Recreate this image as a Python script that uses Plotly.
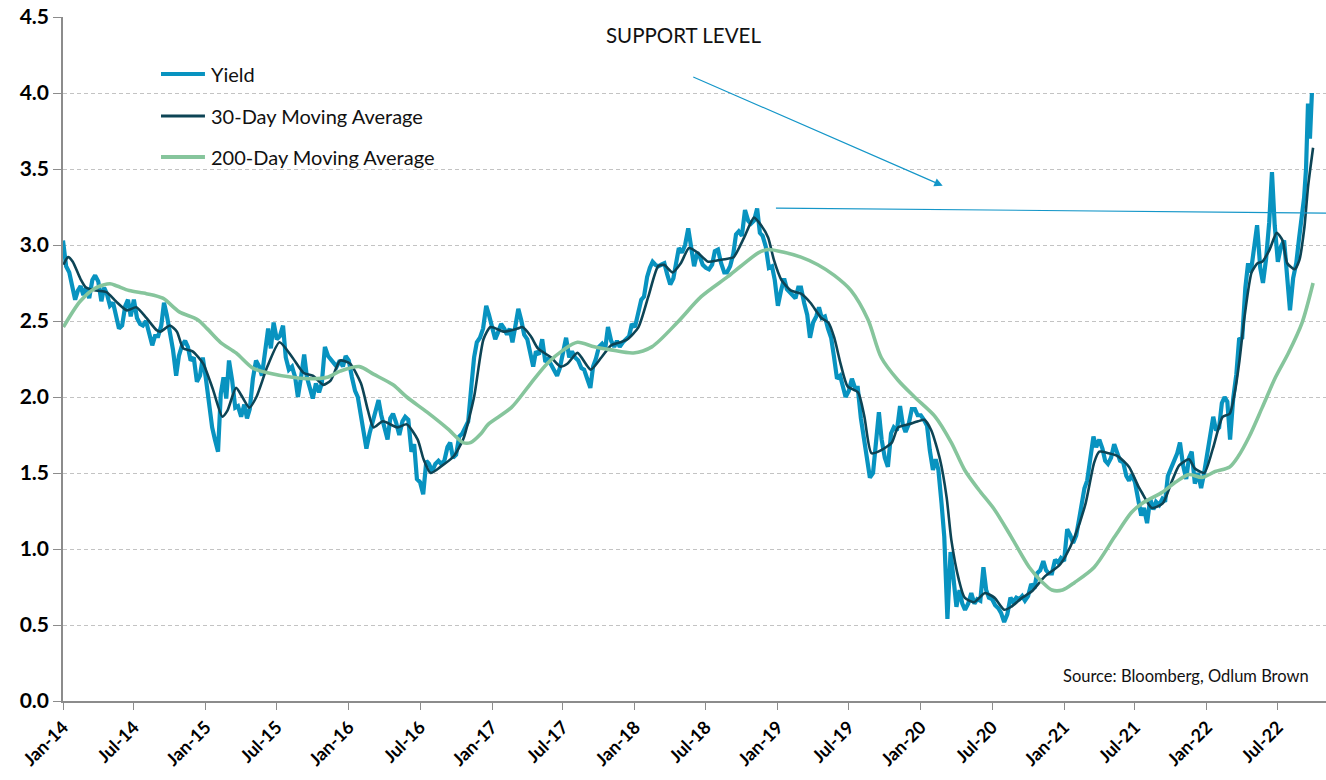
import calendar
import plotly.graph_objects as go

# ---------------- data ----------------
# Yield: 4 readings per month (Sep-2022 has 6), by year
YIELD_2014 = [3.03, 2.86, 2.82, 2.72, 2.64, 2.70, 2.73, 2.67, 2.72, 2.65, 2.77, 2.80,
              2.76, 2.63, 2.72, 2.68, 2.60, 2.62, 2.52, 2.45, 2.47, 2.60, 2.64, 2.53,
              2.64, 2.52, 2.48, 2.47, 2.50, 2.42, 2.34, 2.40, 2.40, 2.47, 2.62, 2.54,
              2.44, 2.31, 2.14, 2.27, 2.34, 2.37, 2.33, 2.24, 2.26, 2.10, 2.14, 2.26]
YIELD_2015 = [2.12, 1.95, 1.80, 1.72, 1.64, 2.02, 2.13, 1.99, 2.24, 2.11, 1.93, 1.94,
              1.87, 1.95, 1.86, 1.92, 2.12, 2.24, 2.20, 2.14, 2.31, 2.45, 2.32, 2.49,
              2.38, 2.40, 2.47, 2.26, 2.18, 2.20, 2.13, 2.00, 2.13, 2.28, 2.13, 2.05,
              1.99, 2.09, 2.03, 2.09, 2.33, 2.27, 2.25, 2.22, 2.20, 2.24, 2.20, 2.27]
YIELD_2016 = [2.24, 2.13, 2.04, 2.00, 1.86, 1.74, 1.66, 1.76, 1.83, 1.90, 1.98, 1.88,
              1.79, 1.72, 1.86, 1.89, 1.83, 1.75, 1.84, 1.87, 1.85, 1.64, 1.69, 1.46,
              1.44, 1.36, 1.58, 1.56, 1.51, 1.56, 1.58, 1.56, 1.58, 1.67, 1.70, 1.60,
              1.62, 1.74, 1.76, 1.80, 1.84, 2.07, 2.26, 2.36, 2.39, 2.45, 2.60, 2.54]
YIELD_2017 = [2.45, 2.38, 2.43, 2.48, 2.45, 2.41, 2.45, 2.36, 2.46, 2.58, 2.50, 2.41,
              2.38, 2.27, 2.20, 2.30, 2.28, 2.38, 2.23, 2.25, 2.21, 2.18, 2.14, 2.19,
              2.30, 2.39, 2.26, 2.30, 2.26, 2.24, 2.19, 2.18, 2.12, 2.06, 2.20, 2.25,
              2.33, 2.35, 2.32, 2.46, 2.37, 2.33, 2.37, 2.33, 2.36, 2.38, 2.40, 2.48]
YIELD_2018 = [2.46, 2.55, 2.64, 2.66, 2.79, 2.85, 2.89, 2.87, 2.86, 2.87, 2.88, 2.81,
              2.74, 2.78, 2.88, 2.98, 2.95, 3.00, 3.11, 2.98, 2.86, 2.95, 2.92, 2.87,
              2.85, 2.84, 2.87, 2.96, 2.97, 2.88, 2.82, 2.82, 2.86, 2.94, 3.07, 3.09,
              3.06, 3.23, 3.16, 3.14, 3.16, 3.24, 3.08, 3.06, 2.99, 2.85, 2.86, 2.77]
YIELD_2019 = [2.60, 2.70, 2.78, 2.71, 2.69, 2.67, 2.65, 2.72, 2.72, 2.62, 2.54, 2.39,
              2.49, 2.53, 2.59, 2.52, 2.53, 2.45, 2.39, 2.27, 2.12, 2.14, 2.06, 2.00,
              2.04, 2.12, 2.06, 2.06, 1.86, 1.72, 1.60, 1.47, 1.50, 1.73, 1.90, 1.72,
              1.60, 1.54, 1.76, 1.80, 1.78, 1.94, 1.82, 1.77, 1.82, 1.92, 1.92, 1.88]
YIELD_2020 = [1.88, 1.85, 1.81, 1.65, 1.52, 1.59, 1.52, 1.30, 1.08, 0.54, 0.98, 0.82,
              0.62, 0.73, 0.64, 0.60, 0.64, 0.71, 0.64, 0.67, 0.66, 0.88, 0.73, 0.68,
              0.67, 0.63, 0.61, 0.58, 0.52, 0.57, 0.68, 0.65, 0.68, 0.67, 0.69, 0.66,
              0.69, 0.77, 0.74, 0.84, 0.86, 0.92, 0.86, 0.84, 0.84, 0.93, 0.91, 0.94]
YIELD_2021 = [0.92, 1.13, 1.09, 1.04, 1.09, 1.19, 1.30, 1.40, 1.45, 1.59, 1.74, 1.67,
              1.72, 1.66, 1.58, 1.56, 1.60, 1.69, 1.62, 1.58, 1.57, 1.48, 1.45, 1.49,
              1.44, 1.34, 1.22, 1.27, 1.17, 1.33, 1.26, 1.31, 1.29, 1.33, 1.31, 1.48,
              1.53, 1.58, 1.63, 1.70, 1.55, 1.46, 1.60, 1.64, 1.43, 1.50, 1.40, 1.49]
YIELD_2022 = [1.63, 1.76, 1.87, 1.78, 1.80, 1.96, 2.00, 1.97, 1.72, 1.99, 2.15, 2.38,
              2.39, 2.72, 2.88, 2.82, 2.96, 3.13, 2.85, 2.75, 2.91, 3.15, 3.48, 3.13,
              2.89, 2.99, 3.03, 2.78, 2.57, 2.78, 2.88, 3.04]
YIELD_2022_SEP = [3.19, 3.31, 3.50, 3.93, 3.70, 4.00]

MA30_DATES = ["2014-01-02", "2014-01-14", "2014-01-26", "2014-02-14", "2014-03-01", "2014-03-27",
              "2014-04-22", "2014-05-16", "2014-06-13", "2014-07-07", "2014-08-02", "2014-08-28",
              "2014-09-07", "2014-10-01", "2014-10-19", "2014-11-04", "2014-11-28", "2014-12-25",
              "2015-01-19", "2015-02-12", "2015-02-25", "2015-03-19", "2015-04-04", "2015-04-22",
              "2015-05-10", "2015-06-07", "2015-07-08", "2015-08-10", "2015-09-07", "2015-10-01",
              "2015-10-28", "2015-11-16", "2015-12-10", "2016-01-04", "2016-02-01", "2016-02-19",
              "2016-03-04", "2016-03-28", "2016-05-04", "2016-05-28", "2016-06-25", "2016-07-10",
              "2016-07-28", "2016-08-22", "2016-09-25", "2016-10-19", "2016-11-16", "2016-12-10",
              "2016-12-28", "2017-02-01", "2017-03-07", "2017-03-19", "2017-04-10", "2017-04-28",
              "2017-06-01", "2017-06-25", "2017-07-13", "2017-08-07", "2017-09-10", "2017-10-07",
              "2017-11-01", "2017-11-25", "2017-12-13", "2018-01-10", "2018-02-04", "2018-03-01",
              "2018-03-16", "2018-04-07", "2018-04-28", "2018-05-19", "2018-06-10", "2018-07-07",
              "2018-08-01", "2018-08-25", "2018-09-10", "2018-10-07", "2018-11-01", "2018-11-19",
              "2018-12-07", "2018-12-22", "2019-01-10", "2019-02-04", "2019-03-01", "2019-03-25",
              "2019-04-22", "2019-05-10", "2019-05-25", "2019-06-10", "2019-06-28", "2019-07-25",
              "2019-08-10", "2019-08-28", "2019-09-22", "2019-10-19", "2019-11-04", "2019-12-01",
              "2019-12-25", "2020-01-10", "2020-01-28", "2020-02-19", "2020-03-07", "2020-03-19",
              "2020-04-07", "2020-04-22", "2020-05-16", "2020-06-13", "2020-07-07", "2020-08-01",
              "2020-08-19", "2020-09-16", "2020-10-10", "2020-11-13", "2020-12-19", "2021-01-04",
              "2021-01-28", "2021-02-25", "2021-03-19", "2021-04-01", "2021-04-25", "2021-05-19",
              "2021-06-16", "2021-07-10", "2021-07-19", "2021-08-13", "2021-09-10", "2021-10-04",
              "2021-10-22", "2021-11-16", "2021-12-01", "2021-12-25", "2022-01-16", "2022-02-10",
              "2022-02-28", "2022-03-13", "2022-03-25", "2022-04-07", "2022-04-25", "2022-05-10",
              "2022-05-22", "2022-06-10", "2022-06-28", "2022-07-13", "2022-07-25", "2022-08-13",
              "2022-08-25", "2022-09-07", "2022-09-16", "2022-09-29"]
MA30_VALUES = [2.87, 2.92, 2.89, 2.78, 2.72, 2.70,
               2.69, 2.63, 2.57, 2.59, 2.52, 2.44,
               2.43, 2.47, 2.43, 2.32, 2.30, 2.22,
               2.05, 1.87, 1.91, 2.06, 2.00, 1.93,
               2.00, 2.20, 2.36, 2.26, 2.16, 2.14,
               2.08, 2.11, 2.24, 2.22, 2.09, 1.91,
               1.80, 1.84, 1.80, 1.82, 1.72, 1.59,
               1.50, 1.54, 1.61, 1.72, 2.00, 2.38,
               2.46, 2.43, 2.45, 2.46, 2.40, 2.32,
               2.26, 2.20, 2.22, 2.29, 2.18, 2.26,
               2.34, 2.36, 2.38, 2.46, 2.66, 2.86,
               2.87, 2.82, 2.88, 2.98, 2.95, 2.89,
               2.90, 2.91, 2.92, 3.05, 3.18, 3.13,
               3.05, 2.90, 2.77, 2.70, 2.68, 2.62,
               2.52, 2.49, 2.39, 2.22, 2.07, 2.03,
               1.87, 1.63, 1.65, 1.70, 1.80, 1.82,
               1.84, 1.85, 1.78, 1.59, 1.34, 1.06,
               0.80, 0.68, 0.65, 0.71, 0.68, 0.60,
               0.62, 0.68, 0.72, 0.82, 0.89, 0.95,
               1.08, 1.30, 1.57, 1.64, 1.63, 1.61,
               1.54, 1.41, 1.37, 1.27, 1.30, 1.45,
               1.55, 1.59, 1.53, 1.50, 1.66, 1.87,
               1.89, 2.03, 2.24, 2.53, 2.82, 2.88,
               2.89, 2.97, 3.08, 3.03, 2.88, 2.84,
               2.90, 3.12, 3.38, 3.64]

MA200_DATES = ["2014-01-02", "2014-02-14", "2014-03-27", "2014-05-01", "2014-05-19", "2014-06-19",
               "2014-08-02", "2014-09-13", "2014-10-25", "2014-12-10", "2015-01-04", "2015-02-07",
               "2015-03-19", "2015-05-01", "2015-06-07", "2015-08-10", "2015-10-01", "2015-11-07",
               "2015-12-10", "2016-01-28", "2016-03-04", "2016-04-23", "2016-05-28", "2016-07-19",
               "2016-09-10", "2016-10-19", "2016-11-07", "2016-12-04", "2016-12-22", "2017-02-19",
               "2017-04-10", "2017-05-22", "2017-07-02", "2017-08-07", "2017-09-19", "2017-11-01",
               "2017-12-28", "2018-02-13", "2018-04-19", "2018-06-19", "2018-08-25", "2018-09-28",
               "2018-11-13", "2018-12-07", "2019-01-19", "2019-03-01", "2019-04-13", "2019-05-25",
               "2019-07-07", "2019-08-19", "2019-09-22", "2019-11-04", "2019-12-16", "2020-02-07",
               "2020-03-19", "2020-04-22", "2020-05-28", "2020-07-07", "2020-08-19", "2020-10-04",
               "2020-11-07", "2020-12-01", "2020-12-28", "2021-01-28", "2021-03-19", "2021-05-10",
               "2021-06-22", "2021-07-19", "2021-09-10", "2021-10-13", "2021-11-16", "2021-12-19",
               "2022-01-22", "2022-02-28", "2022-03-22", "2022-04-19", "2022-05-22", "2022-06-25",
               "2022-07-28", "2022-09-01", "2022-09-29"]
MA200_VALUES = [2.46, 2.63, 2.72, 2.745, 2.73, 2.70,
                2.68, 2.65, 2.56, 2.51, 2.45, 2.36,
                2.29, 2.19, 2.16, 2.13, 2.12, 2.13,
                2.17, 2.20, 2.15, 2.08, 2.00, 1.90,
                1.79, 1.70, 1.70, 1.76, 1.82, 1.93,
                2.09, 2.22, 2.31, 2.36, 2.33, 2.31,
                2.29, 2.33, 2.49, 2.66, 2.79, 2.86,
                2.95, 2.97, 2.95, 2.92, 2.87, 2.80,
                2.70, 2.51, 2.26, 2.11, 2.00, 1.87,
                1.70, 1.52, 1.39, 1.26, 1.08, 0.88,
                0.78, 0.73, 0.73, 0.78, 0.88, 1.08,
                1.24, 1.30, 1.375, 1.44, 1.49, 1.47,
                1.51, 1.54, 1.61, 1.74, 1.93, 2.13,
                2.29, 2.49, 2.75]

TICK_LABELS = ["Jan-14", "Jul-14", "Jan-15", "Jul-15", "Jan-16", "Jul-16", "Jan-17", "Jul-17",
               "Jan-18", "Jul-18", "Jan-19", "Jul-19", "Jan-20", "Jul-20", "Jan-21", "Jul-21",
               "Jan-22", "Jul-22"]
SERIES_NAMES = ["Yield", "30-Day Moving Average", "200-Day Moving Average"]

# ---------------- styling / layout constants ----------------
C_YIELD = "#0893C0"
C_MA30 = "#0D4455"
C_MA200 = "#86C59C"
C_ANNOT = "#1496C8"
FONT = "Lato"
X_START, X_END = "2014-01-01", "2022-11-01"

# ---------------- assemble yield dates ----------------
def month_blocks(year, values, start_month=1, per_month=4):
    dates, vals = [], []
    for i in range(0, len(values), per_month):
        m = start_month + i // per_month
        chunk = values[i:i + per_month]
        ndays = calendar.monthrange(year, m)[1]
        for j, v in enumerate(chunk):
            day = 1 + int(round(j * ndays / len(chunk)))
            dates.append(f"{year}-{m:02d}-{day:02d}")
            vals.append(v)
    return dates, vals

yield_x, yield_y = [], []
for yr, vals in [(2014, YIELD_2014), (2015, YIELD_2015), (2016, YIELD_2016), (2017, YIELD_2017),
                 (2018, YIELD_2018), (2019, YIELD_2019), (2020, YIELD_2020), (2021, YIELD_2021),
                 (2022, YIELD_2022)]:
    d, v = month_blocks(yr, vals)
    yield_x += d
    yield_y += v
d, v = month_blocks(2022, YIELD_2022_SEP, start_month=9, per_month=len(YIELD_2022_SEP))
yield_x += d
yield_y += v

tick_vals = []
for k in range(len(TICK_LABELS)):
    yr = 2014 + k // 2
    mo = 1 if k % 2 == 0 else 7
    tick_vals.append(f"{yr}-{mo:02d}-01")

fig = go.Figure()
fig.add_trace(go.Scatter(x=yield_x, y=yield_y, mode="lines", name=SERIES_NAMES[0],
                         line=dict(color=C_YIELD, width=4.2)))
fig.add_trace(go.Scatter(x=MA30_DATES, y=MA30_VALUES, mode="lines", name=SERIES_NAMES[1],
                         line=dict(color=C_MA30, width=2.6, shape="spline", smoothing=0.6)))
fig.add_trace(go.Scatter(x=MA200_DATES, y=MA200_VALUES, mode="lines", name=SERIES_NAMES[2],
                         line=dict(color=C_MA200, width=3.6, shape="spline", smoothing=0.8)))

# manual legend (paper coordinates)
LEG_X0, LEG_X1, LEG_TX = 0.0776, 0.1124, 0.1156
LEG_Y = [0.9167, 0.8553, 0.7953]
LEG_W = [4, 3, 4]
for name, col, yy, w in zip(SERIES_NAMES, [C_YIELD, C_MA30, C_MA200], LEG_Y, LEG_W):
    fig.add_shape(type="line", xref="paper", yref="paper", x0=LEG_X0, x1=LEG_X1, y0=yy, y1=yy,
                  line=dict(color=col, width=w))
    fig.add_annotation(xref="paper", yref="paper", x=LEG_TX, y=yy, text=name, showarrow=False,
                       xanchor="left", yanchor="middle", font=dict(family=FONT, size=20, color="#111"))

# support level annotations
fig.add_annotation(x="2018-05-06", y=4.38, xref="x", yref="y", text="SUPPORT LEVEL", showarrow=False,
                   font=dict(family=FONT, size=20.5, color="#111"))
fig.add_annotation(x="2020-02-26", y=3.39, xref="x", yref="y", ax="2018-05-26", ay=4.11,
                   axref="x", ayref="y", text="", showarrow=True, arrowhead=2, arrowsize=1.4,
                   arrowwidth=1.2, arrowcolor=C_ANNOT)
fig.add_shape(type="line", xref="x", yref="y", x0="2018-12-27", y0=3.243, x1=X_END, y1=3.21,
              line=dict(color=C_ANNOT, width=1.2))
fig.add_annotation(xref="paper", yref="paper", x=0.988, y=0.0365, text="Source: Bloomberg, Odlum Brown",
                   showarrow=False, xanchor="right", yanchor="middle",
                   font=dict(family=FONT, size=16.5, color="#111"))

fig.update_layout(
    width=1326, height=780,
    margin=dict(l=63, r=0, t=17, b=79),
    paper_bgcolor="white", plot_bgcolor="white",
    showlegend=False,
    font=dict(family=FONT, color="#000"),
    xaxis=dict(type="date", range=[X_START, X_END], tickvals=tick_vals, ticktext=TICK_LABELS,
               tickangle=-45, ticks="outside", ticklen=7, tickcolor="#8C8C8C",
               showline=True, linecolor="#8C8C8C", linewidth=1.5, showgrid=False, zeroline=False,
               tickfont=dict(family=FONT, size=18, color="#000", weight="bold")),
    yaxis=dict(range=[0, 4.5], tick0=0, dtick=0.5, tickformat=".1f",
               ticks="outside", ticklen=8, tickcolor="#8C8C8C",
               showline=True, linecolor="#8C8C8C", linewidth=1.5,
               showgrid=True, gridcolor="#C3C3C3", gridwidth=1, griddash="4px,3px", zeroline=False,
               tickfont=dict(family=FONT, size=21, color="#000", weight="bold")),
)

fig.write_html("out.html", config={"displayModeBar": False},
               post_script="document.body.style.margin='0';document.body.style.overflow='hidden';")
